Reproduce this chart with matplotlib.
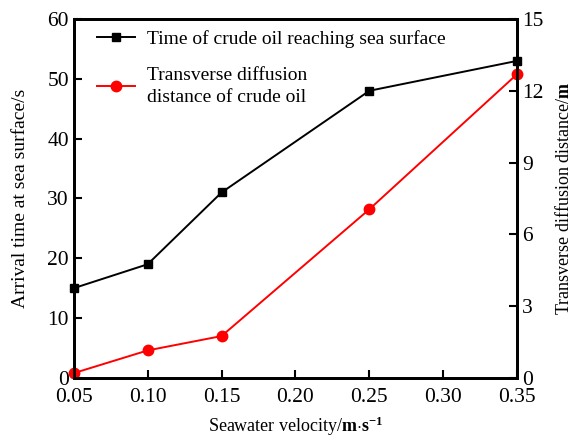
import matplotlib
matplotlib.use("Agg")
import matplotlib.pyplot as plt

plt.rcParams['font.family'] = ['Liberation Serif', 'DejaVu Serif']
plt.rcParams['mathtext.fontset'] = 'custom'
plt.rcParams['mathtext.rm'] = 'Liberation Serif'
plt.rcParams['mathtext.bf'] = 'Liberation Serif:bold'

velocity = [0.05, 0.10, 0.15, 0.25, 0.35]
arrival_time = [15, 19, 31, 48, 53]
diffusion_distance = [0.2, 1.15, 1.75, 7.05, 12.7]

fig = plt.figure(figsize=(5.76, 4.41), dpi=100)
ax1 = fig.add_axes([0.128, 0.143, 0.770, 0.814])
ax2 = ax1.twinx()

l1, = ax1.plot(velocity, arrival_time, color='black', marker='s', markersize=6,
               linewidth=1.4, label='Time of crude oil reaching sea surface', clip_on=False)
l2, = ax2.plot(velocity, diffusion_distance, color='red', marker='o', markersize=7.5,
               linewidth=1.4, label='Transverse diffusion\ndistance of crude oil', clip_on=False)

ax1.set_xlim(0.05, 0.35)
ax1.set_ylim(0, 60)
ax2.set_ylim(0, 15)
ax1.set_xticks([0.05, 0.10, 0.15, 0.20, 0.25, 0.30, 0.35])
ax1.set_xticklabels(['0.05', '0.10', '0.15', '0.20', '0.25', '0.30', '0.35'])
ax1.set_yticks(range(0, 61, 10))
ax2.set_yticks(range(0, 16, 3))

for ax in (ax1, ax2):
    ax.tick_params(direction='in', length=6, width=1.5, labelsize=15.5)
    for s in ax.spines.values():
        s.set_linewidth(2)
ax1.tick_params(axis='x', pad=7)

ax1.set_xlabel(r'Seawater velocity/$\mathbf{m{\cdot}s^{-1}}$', fontsize=13, labelpad=6)
ax1.set_ylabel('Arrival time at sea surface/s', fontsize=14, labelpad=13)
ax2.set_ylabel(r'Transverse diffusion distance/$\mathbf{m}$', fontsize=13, labelpad=8)

leg = ax1.legend(handles=[l1, l2], loc='upper left', bbox_to_anchor=(0.034, 0.991),
                 frameon=False, fontsize=14, handlelength=2.0, handletextpad=0.57,
                 labelspacing=1.0, borderaxespad=0)
leg.get_texts()[1].set_linespacing(1.35)

fig.savefig('out.png', dpi=100)
